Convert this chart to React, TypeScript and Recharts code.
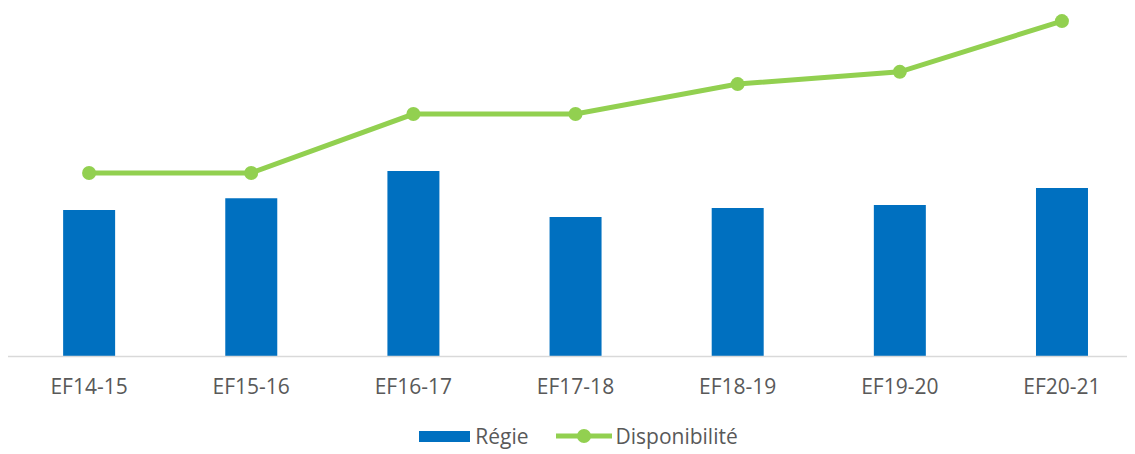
import { ComposedChart, Bar, Line, XAxis, YAxis, Legend } from 'recharts'

const years = ['EF14-15', 'EF15-16', 'EF16-17', 'EF17-18', 'EF18-19', 'EF19-20', 'EF20-21']
const regie = [43.0, 46.5, 54.5, 41.0, 43.6, 44.5, 49.5]
const disponibilite = [53.9, 53.9, 71.2, 71.2, 80.0, 83.6, 98.5]

const BLUE = '#0070C0'
const GREEN = '#92D050'
const TEXT = '#595959'
const FONT = '"Open Sans", sans-serif'

const data = years.map((y, i) => ({ year: y, regie: regie[i], dispo: disponibilite[i] }))

function LegendBox() {
  return (
    <div
      style={{
        display: 'flex',
        justifyContent: 'center',
        alignItems: 'center',
        height: 50,
        paddingTop: 14,
        paddingLeft: 6,
        boxSizing: 'border-box',
        fontFamily: FONT,
        fontSize: 21,
        color: TEXT,
      }}
    >
      <span style={{ display: 'inline-block', width: 51, height: 11, background: BLUE, marginRight: 5 }} />
      <span style={{ marginRight: 27 }}>Régie</span>
      <svg width={56} height={16} style={{ marginRight: 4 }}>
        <line x1={0} y1={8} x2={56} y2={8} stroke={GREEN} strokeWidth={5} />
        <circle cx={28} cy={8} r={7} fill={GREEN} />
      </svg>
      <span>Disponibilité</span>
    </div>
  )
}

export default function App() {
  return (
    <div style={{ width: 1127, height: 446, overflow: 'hidden' }}>
      <ComposedChart
        width={1135}
        height={446}
        data={data}
        margin={{ top: 8, right: 0, bottom: 0, left: 0 }}
        barCategoryGap="34%"
      >
        <XAxis
          dataKey="year"
          axisLine={{ stroke: '#D9D9D9', strokeWidth: 1.5 }}
          tickLine={false}
          tickSize={0}
          tickMargin={23}
          height={47.5}
          tick={{ fill: TEXT, fontSize: 21, fontFamily: FONT }}
          interval={0}
        />
        <YAxis hide domain={[0, 100]} />
        <Legend verticalAlign="bottom" height={50} content={() => <LegendBox />} />
        <Bar dataKey="regie" name="Régie" fill={BLUE} isAnimationActive={false} />
        <Line
          dataKey="dispo"
          name="Disponibilité"
          stroke={GREEN}
          strokeWidth={5}
          dot={{ r: 7, fill: GREEN, stroke: GREEN, strokeWidth: 0 }}
          activeDot={false}
          isAnimationActive={false}
        />
      </ComposedChart>
    </div>
  )
}
